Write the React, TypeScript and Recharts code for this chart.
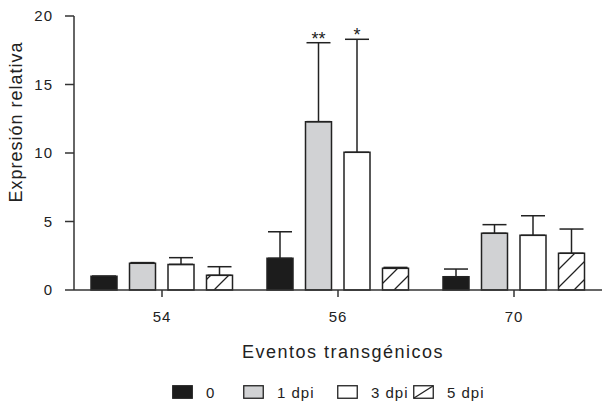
import { BarChart, Bar, XAxis, YAxis, ErrorBar, LabelList } from "recharts";

const events = ["54", "56", "70"];
const seriesNames = ["0", "1 dpi", "3 dpi", "5 dpi"];

const dpi0 = [1.0, 2.31, 0.97];
const dpi0Err = [0, 1.94, 0.56];
const dpi1 = [1.95, 12.29, 4.14];
const dpi1Err = [0.05, 5.76, 0.63];
const dpi3 = [1.87, 10.05, 3.99];
const dpi3Err = [0.49, 8.25, 1.43];
const dpi5 = [1.07, 1.58, 2.68];
const dpi5Err = [0.63, 0.07, 1.77];

const dpi1Sig = ["", "**", ""];
const dpi3Sig = ["", "*", ""];

const yTicks = [0, 5, 10, 15, 20];

const rows = events.map((ev, i) => ({
  event: ev,
  d0: dpi0[i],
  e0: [0, dpi0Err[i]],
  d1: dpi1[i],
  e1: [0, dpi1Err[i]],
  s1: dpi1Sig[i],
  d3: dpi3[i],
  e3: [0, dpi3Err[i]],
  s3: dpi3Sig[i],
  d5: dpi5[i],
  e5: [0, dpi5Err[i]],
}));

const FONT = "'Liberation Sans', Arial, sans-serif";
const INK = "#222";

// stars sit just above the top of the error bar
function starLabel(vals: number[], errs: number[]) {
  return (props: any) => {
    const { x, y, width, height, value, index } = props;
    if (!value) return null;
    const perUnit = height / vals[index];
    const top = y - errs[index] * perUnit;
    return (
      <text
        x={x + width / 2}
        y={top + 2}
        textAnchor="middle"
        fontSize={18}
        fontFamily={FONT}
        fill={INK}
      >
        {value}
      </text>
    );
  };
}

const swatches = [
  { fill: "#1c1c1c", hatch: false },
  { fill: "#d1d2d4", hatch: false },
  { fill: "#ffffff", hatch: false },
  { fill: "#ffffff", hatch: true },
];
const legendX = [172, 243, 337, 413];

export default function App() {
  return (
    <div
      style={{
        position: "absolute",
        left: 0,
        top: 0,
        width: 603,
        height: 407,
        background: "#fff",
        fontFamily: FONT,
      }}
    >
      <svg width={0} height={0} style={{ position: "absolute" }}>
        <defs>
          <pattern
            id="hatch"
            patternUnits="userSpaceOnUse"
            width={18}
            height={18}
          >
            <path
              d="M0,18 L18,0 M-4.5,4.5 L4.5,-4.5 M13.5,22.5 L22.5,13.5"
              stroke={INK}
              strokeWidth={1.3}
            />
          </pattern>
        </defs>
      </svg>
      <BarChart
        width={603}
        height={407}
        data={rows}
        margin={{ top: 16, right: 1, left: 14, bottom: 42 }}
        barCategoryGap={17}
        barGap={12.5}
      >
        <XAxis
          dataKey="event"
          height={75}
          tickSize={7}
          tickMargin={14}
          stroke="#333"
          strokeWidth={1.5}
          tick={{ fill: INK, fontSize: 15, fontFamily: FONT, letterSpacing: 1 }}
          label={(p: any) => (
            <text
              x={343}
              y={p.viewBox.y + 68}
              textAnchor="middle"
              fontSize={18}
              letterSpacing={1.5}
              fontFamily={FONT}
              fill={INK}
            >
              Eventos transgénicos
            </text>
          )}
        />
        <YAxis
          domain={[0, 20]}
          ticks={yTicks}
          width={60}
          tickSize={9}
          tickMargin={12}
          stroke="#333"
          strokeWidth={1.5}
          tick={{ fill: INK, fontSize: 15, fontFamily: FONT, letterSpacing: 1 }}
          label={() => (
            <text
              x={22}
              y={122}
              transform="rotate(-90, 22, 122)"
              textAnchor="middle"
              fontSize={18}
              letterSpacing={1}
              fontFamily={FONT}
              fill={INK}
            >
              Expresión relativa
            </text>
          )}
        />
        <Bar dataKey="d0" fill={swatches[0].fill} stroke={INK} strokeWidth={1.5} isAnimationActive={false}>
          <ErrorBar dataKey="e0" width={12} stroke={INK} strokeWidth={1.5} isAnimationActive={false} />
        </Bar>
        <Bar dataKey="d1" fill={swatches[1].fill} stroke={INK} strokeWidth={1.5} isAnimationActive={false}>
          <ErrorBar dataKey="e1" width={12} stroke={INK} strokeWidth={1.5} isAnimationActive={false} />
          <LabelList dataKey="s1" content={starLabel(dpi1, dpi1Err)} />
        </Bar>
        <Bar dataKey="d3" fill={swatches[2].fill} stroke={INK} strokeWidth={1.5} isAnimationActive={false}>
          <ErrorBar dataKey="e3" width={12} stroke={INK} strokeWidth={1.5} isAnimationActive={false} />
          <LabelList dataKey="s3" content={starLabel(dpi3, dpi3Err)} />
        </Bar>
        <Bar dataKey="d5" fill="url(#hatch)" stroke={INK} strokeWidth={1.5} isAnimationActive={false}>
          <ErrorBar dataKey="e5" width={12} stroke={INK} strokeWidth={1.5} isAnimationActive={false} />
        </Bar>
      </BarChart>
      {seriesNames.map((name, i) => (
        <div
          key={name}
          style={{
            position: "absolute",
            left: legendX[i],
            top: 383,
            height: 18,
            display: "flex",
            alignItems: "center",
            gap: 13,
            fontSize: 15,
            letterSpacing: 1,
            color: INK,
          }}
        >
          <svg width={21} height={14}>
            <rect
              x={0.75}
              y={0.75}
              width={19.5}
              height={12.5}
              fill={swatches[i].fill}
              stroke={INK}
              strokeWidth={1.3}
            />
            {swatches[i].hatch && (
              <line x1={1} y1={13} x2={20} y2={1} stroke={INK} strokeWidth={1.3} />
            )}
          </svg>
          <span>{name}</span>
        </div>
      ))}
    </div>
  );
}
